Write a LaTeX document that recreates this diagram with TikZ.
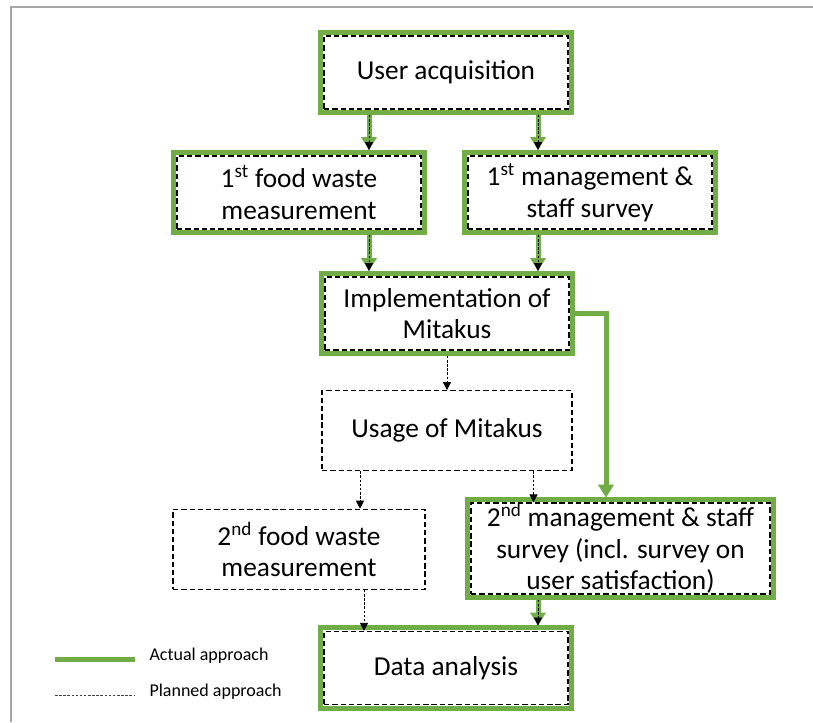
\documentclass[tikz,border=0pt]{standalone}
\usepackage{fontspec}
\setmainfont{Carlito}
\usetikzlibrary{arrows.meta}

\definecolor{mgreen}{RGB}{112,173,71}
\definecolor{framegray}{RGB}{166,166,166}

\tikzset{every picture/.style={line width=0.75pt}}
\tikzset{
  planbox/.style={draw, line width=0.9pt, dash pattern=on 4pt off 2.2pt, inner sep=0pt, align=center,
    minimum width=183pt, minimum height=54.75pt,
    font=\fontsize{20.5}{23.6}\selectfont},
  actualframe/.style={draw=mgreen, line width=3.75pt},
  planline/.style={dash pattern=on 1.9pt off 1.2pt, line width=0.6pt},
  planarrow/.style={planline, -{Triangle[width=6pt,length=6pt]}},
  dualarrow/.style={planarrow, shorten <=4pt, shorten >=4pt,
    preaction={draw=mgreen, solid, line width=3.75pt, -{Triangle[width=11.25pt,length=9.75pt]}}},
  actualarrow/.style={draw=mgreen, line width=3.75pt, -{Triangle[width=11.25pt,length=9.75pt]}},
  legendtext/.style={anchor=west, inner sep=0.75pt, font=\fontsize{13.5}{16}\selectfont}
}

\begin{document}
\begin{tikzpicture}[x=0.75pt,y=0.75pt,yscale=-1,xscale=1]
\useasboundingbox (0,0) rectangle (813,722);

%Straight Lines: frame
\draw [framegray, line width=1.5pt] (11,722) -- (11,7) -- (813,7) ;

%Shape: Rectangle
\node [planbox] (ua) at (446,72.5) {User acquisition};
%Shape: Rectangle
\node [planbox] (fwa) at (299,192.5) {1\textsuperscript{st} food waste\\measurement};
%Shape: Rectangle
\node [planbox] (msa) at (590,192.5) {1\textsuperscript{st} management \&\\staff survey};
%Shape: Rectangle
\node [planbox] (impl) at (447,313.5) {Implementation of\\Mitakus};
%Shape: Rectangle
\node [planbox, minimum width=187.5pt, minimum height=60pt] (use) at (447,430.7) {Usage of Mitakus};
%Shape: Rectangle
\node [planbox, minimum width=189pt, minimum height=60pt] (fwb) at (299,549.3) {2\textsuperscript{nd} food waste\\measurement};
%Shape: Rectangle
\node [planbox, minimum width=224.25pt, minimum height=68.25pt] (msb) at (620.5,548.5) {2\textsuperscript{nd} management \& staff\\survey (incl. survey on\\user satisfaction)};
%Shape: Rectangle
\node [planbox] (da) at (446,668) {Data analysis};

% green frames round the boxes that were carried out
\foreach \n in {ua,fwa,msa,impl,msb,da}
  \draw [actualframe] ([shift={(-3,3)}]\n.south west) rectangle ([shift={(3,-3)}]\n.north east) ;

% columns of the connectors
\coordinate (cl) at (369,0);
\coordinate (cr) at (538,0);
\coordinate (cfb) at (360,0);
\coordinate (cdl) at (364,0);
\coordinate (cmb) at (533.5,0);
\coordinate (cg) at (606,0);

%Straight Lines
\draw [dualarrow] (ua.south -| cl) -- (fwa.north -| cl) ;
\draw [dualarrow] (ua.south -| cr) -- (msa.north -| cr) ;
\draw [dualarrow] (fwa.south -| cl) -- (impl.north -| cl) ;
\draw [dualarrow] (msa.south -| cr) -- (impl.north -| cr) ;
\draw [planarrow, shorten <=4pt] (impl.south) -- (use.north) ;
\draw [planarrow] (use.south -| cfb) -- (fwb.north -| cfb) ;
\draw [planarrow] (use.south -| cmb) -- (msb.north -| cmb) ;
\draw [planarrow] (fwb.south -| cdl) -- (da.north -| cdl) ;
\draw [dualarrow] (msb.south -| cr) -- (da.north -| cr) ;
%Elbow Line
\draw [actualarrow, shorten >=3.5pt] (impl.east) -| (cg |- msb.north) ;

% Legend
\coordinate (lga) at (55,659);
\coordinate (lgb) at (135,659);
\coordinate (lpa) at (55,695.5);
\coordinate (lpb) at (135,695.5);
\draw [mgreen, line width=3.75pt] (lga) -- (lgb) ;
\draw [planline, draw=black!75] (lpa) -- (lpb) ;
% Text Node
\node [legendtext] (lgt) at (148,656) {Actual approach};
% Text Node
\node [legendtext] (lpt) at (148,692) {Planned approach};
\end{tikzpicture}
\end{document}
